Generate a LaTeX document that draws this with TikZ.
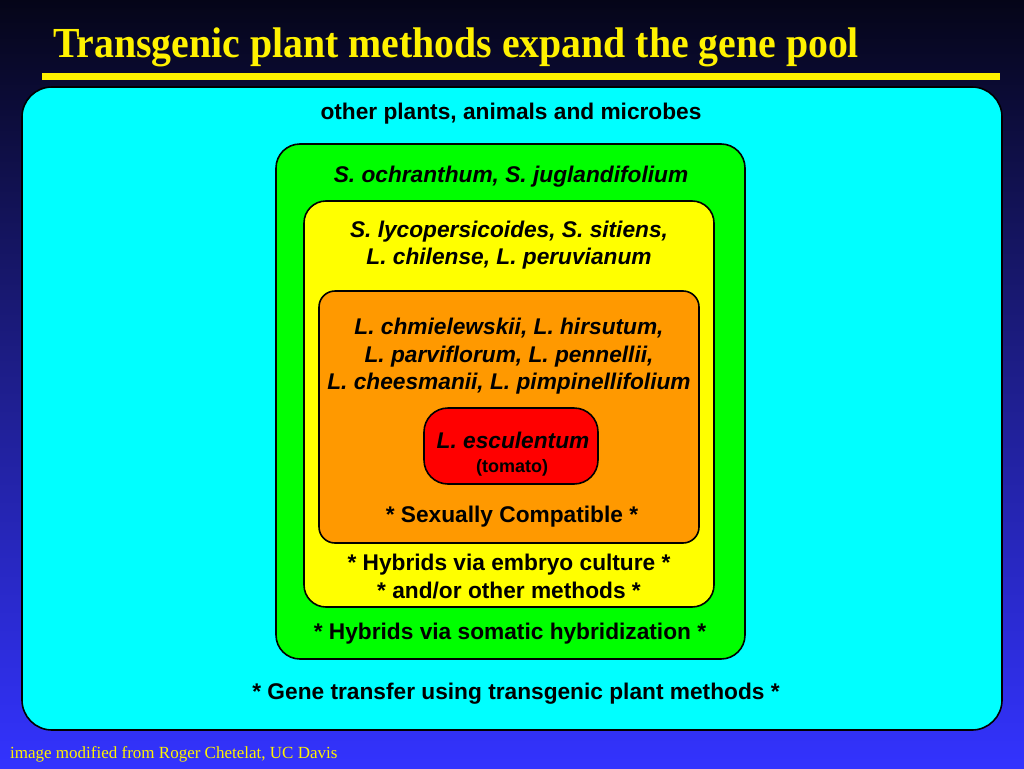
\documentclass[tikz,border=0pt]{standalone}
\usepackage{fontspec}
\setmainfont{Liberation Sans}
\newfontfamily\titlefont{Liberation Serif}
\usetikzlibrary{positioning}

\definecolor{navytop}{RGB}{5,5,24}
\definecolor{navymid}{RGB}{30,30,140}
\definecolor{navybot}{RGB}{51,51,255}
\definecolor{poolcyan}{RGB}{0,255,255}
\definecolor{poolgreen}{RGB}{0,255,0}
\definecolor{poolyellow}{RGB}{255,255,0}
\definecolor{poolorange}{RGB}{255,153,0}
\definecolor{poolred}{RGB}{255,0,0}

\tikzset{
  pool/.style={draw=black, line width=1.6pt, inner sep=0pt},
  label/.style={font=\bfseries\fontsize{22.7}{27.5}\selectfont, align=center, inner sep=0pt},
  species/.style={label, font=\bfseries\itshape\fontsize{22.7}{27.5}\selectfont}
}

\begin{document}
\begin{tikzpicture}[x=1pt,y=-1pt]
\useasboundingbox (0,0) rectangle (1024,768);
\shade[top color=navytop, bottom color=navybot, middle color=navymid] (0,0) rectangle (1024,768);

% title and rule
\node[anchor=base west, inner sep=0pt, text=yellow,
      font=\titlefont\bfseries\fontsize{42}{42}\selectfont] (title) at (53,58)
      {\scalebox{0.947}[1.02]{Transgenic plant methods expand the gene pool}};
\fill[yellow] (42,73) rectangle (1000,80);

% nested boxes
\node[pool, fill=poolcyan, rounded corners=30pt, minimum width=980pt, minimum height=643pt] (transgenic) at (512,408.5) {};
\node[pool, fill=poolgreen, rounded corners=24pt, minimum width=469pt, minimum height=515pt] (somatic) at (510.5,401.5) {};
\node[pool, fill=poolyellow, rounded corners=22pt, minimum width=410pt, minimum height=406pt] (embryo) at (509,404) {};
\node[pool, fill=poolorange, rounded corners=16pt, minimum width=380pt, minimum height=252pt] (sexual) at (509,417) {};
\node[pool, fill=poolred, rounded corners=24pt, minimum width=174pt, minimum height=76pt] (tomato) at (511,446) {};

% texts
\node[label] (others) at (511,114) {other plants, animals and microbes};
\node[species] (solanum) at (511,177) {S. ochranthum, S. juglandifolium};
\node[species] (lycop) at (509,245) {S. lycopersicoides, S. sitiens,\\L. chilense, L. peruvianum};
\node[species] (lyco) at (509,356.5) {L. chmielewskii, L. hirsutum,\\L. parviflorum, L. pennellii,\\L. cheesmanii, L. pimpinellifolium};
\node[species] (escul) at (513,440.5) {L. esculentum};
\node[label, font=\bfseries\fontsize{18}{20}\selectfont] (tomname) at (512,467.5) {(tomato)};
\node[label] (compat) at (512,517) {* Sexually Compatible *};
\node[label] (hybemb) at (509,576.5) {* Hybrids via embryo culture *\\* and/or other methods *};
\node[label] (hybsom) at (510,634) {* Hybrids via somatic hybridization *};
\node[label] (genetr) at (516,694) {* Gene transfer using transgenic plant methods *};

% credit
\node[anchor=base west, inner sep=0pt, text=yellow, font=\titlefont\fontsize{17}{17}\selectfont] (credit) at (10,758)
      {image modified from Roger Chetelat, UC Davis};
\end{tikzpicture}
\end{document}
